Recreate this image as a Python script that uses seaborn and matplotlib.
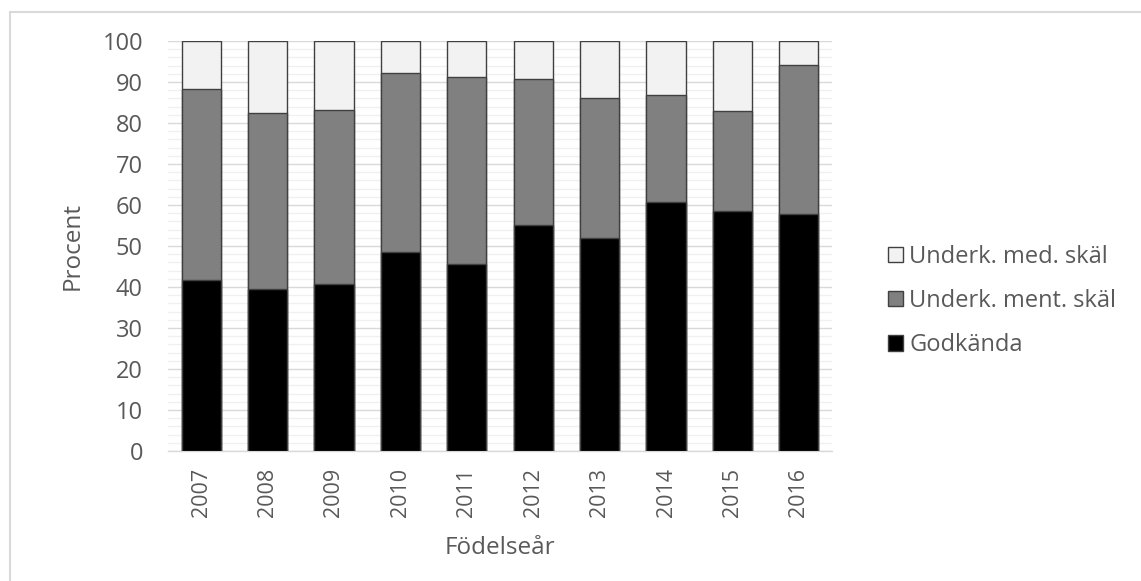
import numpy as np
import pandas as pd
import matplotlib
matplotlib.use("Agg")
import matplotlib.pyplot as plt
from matplotlib.patches import Patch, Rectangle
import seaborn as sns

# Share of children per birth year (percent)
years = ["2007", "2008", "2009", "2010", "2011", "2012", "2013", "2014", "2015", "2016"]
godkanda = [41.6, 39.4, 40.7, 48.5, 45.7, 55.0, 51.9, 60.8, 58.5, 57.7]
underk_ment = [46.6, 43.1, 42.5, 43.8, 45.4, 35.8, 34.3, 26.1, 24.5, 36.4]
underk_med = [11.8, 17.5, 16.8, 7.7, 8.9, 9.2, 13.8, 13.1, 17.0, 5.9]

series_labels = ["Godkända", "Underk. ment. skäl", "Underk. med. skäl"]
series_colors = ["#000000", "#808080", "#F2F2F2"]

sns.set_theme(style="white")
plt.rcParams["font.family"] = ["Open Sans", "DejaVu Sans"]
text_color = "#595959"

df = pd.DataFrame({
    "year": years,
    "godk": godkanda,
    "ment": underk_ment,
    "med": underk_med,
})
# Cumulative heights for stacking: later layers are drawn on top
df["lvl1"] = df["godk"]
df["lvl2"] = df["godk"] + df["ment"]
df["lvl3"] = df["godk"] + df["ment"] + df["med"]

fig = plt.figure(figsize=(11.41, 5.81), dpi=100)
ax = fig.add_axes([0.1472, 0.2238, 0.582, 0.7057])

edge = "#404040"
for col, color in zip(["lvl3", "lvl2", "lvl1"], series_colors[::-1]):
    sns.barplot(data=df, x="year", y=col, color=color, saturation=1,
                width=0.59, edgecolor=edge, linewidth=1.0, ax=ax, zorder=3)

ax.set_ylim(0, 100)
ax.set_xlim(-0.5, len(years) - 0.5)
ax.set_yticks(np.arange(0, 101, 10))
ax.set_yticks(np.arange(0, 101, 2), minor=True)
ax.grid(axis="y", which="major", color="#D9D9D9", linewidth=1.0, zorder=0)
ax.grid(axis="y", which="minor", color="#F0F0F0", linewidth=1.0, zorder=0)
ax.set_axisbelow(True)
for side in ["left", "right", "top"]:
    ax.spines[side].set_visible(False)
ax.spines["bottom"].set_color("#D9D9D9")
ax.spines["bottom"].set_linewidth(1.0)

ax.tick_params(axis="y", which="both", length=0, pad=18, labelsize=17, labelcolor=text_color)
ax.tick_params(axis="x", length=0, pad=12, labelsize=15.5, labelcolor=text_color)
plt.setp(ax.get_xticklabels(), rotation=90)

ax.set_xlabel("Födelseår", fontsize=17.5, color=text_color, labelpad=14)
ax.set_ylabel("Procent", fontsize=17.5, color=text_color, labelpad=13)

handles = [Patch(facecolor=c, edgecolor=edge, linewidth=1.0, label=l)
           for c, l in zip(series_colors[::-1], series_labels[::-1])]
leg = ax.legend(handles=handles, loc="center left", bbox_to_anchor=(1.07, 0.366),
                frameon=False, fontsize=17, handlelength=0.65, handleheight=0.65,
                handletextpad=0.25, labelspacing=0.85, borderaxespad=0)
for t in leg.get_texts():
    t.set_color(text_color)

# Light frame around the chart area
fig.patches.append(Rectangle((10 / 1141, -0.1), 1.2, 1 - 12 / 581 + 0.1,
                             transform=fig.transFigure, fill=False,
                             edgecolor="#D9D9D9", linewidth=1.5))

fig.savefig("out.png", dpi=100)
